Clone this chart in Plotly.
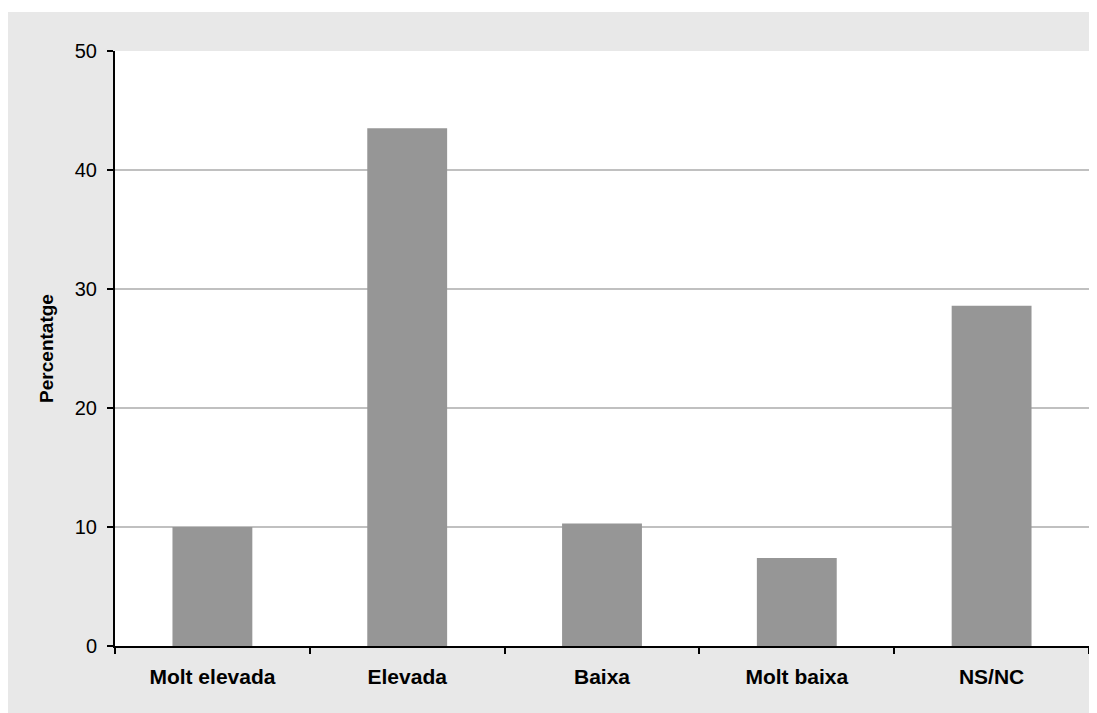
import plotly.graph_objects as go

categories = ["Molt elevada", "Elevada", "Baixa", "Molt baixa", "NS/NC"]
values = [10.0, 43.5, 10.3, 7.4, 28.6]
y_ticks = [0, 10, 20, 30, 40, 50]

# page body has an 8px margin, so the figure starts at (8, 8)
W, H = 1089, 705
L, R, T, B = 107, 8, 43, 67
pw, ph = W - L - R, H - T - B

fig = go.Figure(go.Bar(
    x=categories, y=values,
    marker=dict(color="#969696", line=dict(width=0)),
    hoverinfo="x+y",
))

font = "Liberation Sans, Arial, sans-serif"
fig.update_layout(
    width=W, height=H,
    margin=dict(l=L, r=R, t=T, b=B, pad=0),
    paper_bgcolor="#e8e8e8",
    plot_bgcolor="white",
    bargap=0.59,
    showlegend=False,
    font=dict(family=font, color="black", size=19),
    xaxis=dict(
        showline=True, linecolor="black", linewidth=2,
        ticks="outside", tickson="boundaries", ticklen=6, tickwidth=1.5, tickcolor="black",
        tickfont=dict(family=font, size=21, color="black"),
        ticklabelstandoff=11,
        showgrid=False,
    ),
    yaxis=dict(
        range=[0, 50], tickvals=y_ticks,
        showline=True, linecolor="black", linewidth=2,
        ticks="outside", ticklen=6, tickwidth=1.5, tickcolor="black",
        tickfont=dict(family=font, size=20, color="black"),
        ticklabelstandoff=6,
        showgrid=True, gridcolor="#c0c0c0", gridwidth=1.5,
        zeroline=False,
        title=dict(text="<b>Percentatge</b>", font=dict(family=font, size=19, color="black"), standoff=16),
    ),
    shapes=[
        dict(type="rect", xref="paper", yref="paper", layer="below",
             x0=-L / pw - 0.01, x1=1 + R / pw + 0.01, y0=1 + (T - 4) / ph, y1=1 + T / ph + 0.01,
             fillcolor="white", line=dict(width=0)),
    ],
)
fig.update_xaxes(tickvals=categories, ticktext=[f"<b>{c}</b>" for c in categories])

fig.write_html("out.html")
